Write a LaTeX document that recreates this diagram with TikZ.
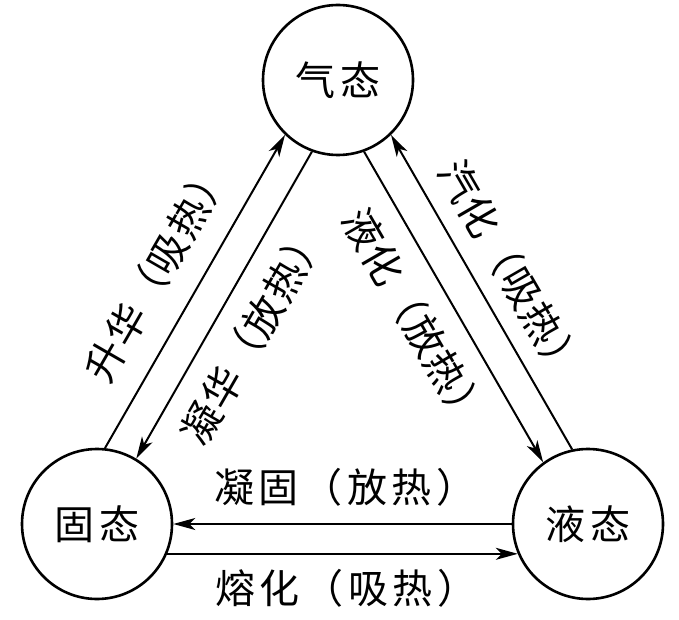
\documentclass[tikz,border=0pt]{standalone}
\usepackage{fontspec}
\setmainfont{Noto Sans CJK SC}
\usetikzlibrary{arrows.meta}
\newcommand{\cnfont}{\fontsize{20}{20}\selectfont\addfontfeature{LetterSpace=11}}
\newcommand{\cnslant}{\fontsize{20}{20}\selectfont\addfontfeature{LetterSpace=3}}
\tikzset{
  phase/.style={circle, draw, line width=1.3pt, minimum size=75pt, inner sep=0pt, font=\cnfont},
  trans/.style={line width=1pt, -{Stealth[length=11pt,width=6pt,inset=3pt]}},
  note/.style={font=\cnfont, inner sep=0pt},
  slantnote/.style={font=\cnslant, inner sep=0pt},
}
\begin{document}
\begin{tikzpicture}[x=0.5pt,y=-0.5pt]
    \useasboundingbox (0,0) rectangle (679,620);
    \node[phase] (gas) at (338,80) {气态};
    \node[phase] (solid) at (97,524) {固态};
    \node[phase] (liquid) at (588,524) {液态};
    % gas and solid
    \draw[trans] (solid.84) -- (gas.226);
    \draw[trans] (gas.250) -- (solid.59);
    \node[slantnote,rotate=60] (sublim) at (157,271) {升华（吸热）};
    \node[slantnote,rotate=60] (depos) at (253,334) {凝华（放热）};
    % gas and liquid
    \draw[trans] (gas.290) -- (liquid.126);
    \draw[trans] (liquid.102) -- (gas.314);
    \node[slantnote,rotate=-60] (vapor) at (511,270) {汽化（吸热）};
    \node[slantnote,rotate=-60] (conden) at (415,318) {液化（放热）};
    % solid and liquid
    \draw[trans] (liquid.180) -- (solid.0);
    \draw[trans] (solid.-23.6) -- (liquid.203.6);
    \node[note] (freeze) at (345,487) {凝固（放热）};
    \node[note] (melt) at (346,588) {熔化（吸热）};
  \end{tikzpicture}
\end{document}
